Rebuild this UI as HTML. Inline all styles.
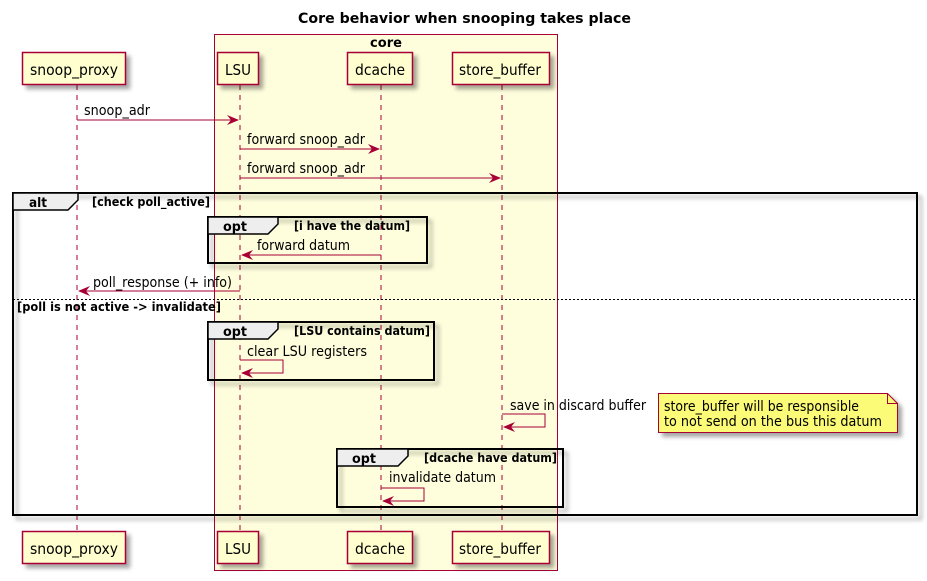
<!DOCTYPE html>
<html><head><meta charset="utf-8"><style>
html,body{margin:0;padding:0;background:#fff;}
svg{display:block;font-family:"DejaVu Sans","Liberation Sans",sans-serif;}
</style></head><body>
<svg width="927" height="581" viewBox="0 0 927 581" xmlns="http://www.w3.org/2000/svg">
<defs>
<filter id="sh" x="-10%" y="-10%" width="130%" height="140%"><feGaussianBlur in="SourceAlpha" stdDeviation="2"/><feOffset dx="4" dy="4"/><feComponentTransfer><feFuncA type="linear" slope="0.35"/></feComponentTransfer><feMerge><feMergeNode/><feMergeNode in="SourceGraphic"/></feMerge></filter>
</defs>
<text x="298" y="23" font-size="14.5" font-weight="bold" fill="#000" textLength="333" lengthAdjust="spacingAndGlyphs">Core behavior when snooping takes place</text>
<rect x="214.5" y="34.5" width="343" height="536" fill="#FEFEDD" stroke="#A80036" stroke-width="1"/>
<text x="370" y="47" font-size="13" font-weight="bold" textLength="32" lengthAdjust="spacingAndGlyphs">core</text>
<g stroke="#A80036" stroke-width="1" stroke-dasharray="5,5">
<line x1="77" y1="85" x2="77" y2="531"/>
<line x1="240" y1="85" x2="240" y2="531"/>
<line x1="381" y1="85" x2="381" y2="531"/>
<line x1="502" y1="85" x2="502" y2="531"/>
</g>
<g fill="#FEFECE" stroke="#A80036" stroke-width="1.5" filter="url(#sh)">
<rect x="22.5" y="52.5" width="103" height="32"/>
<rect x="217.5" y="52.5" width="41" height="32"/>
<rect x="347.5" y="52.5" width="65" height="32"/>
<rect x="452.5" y="52.5" width="97" height="32"/>
<rect x="22.5" y="531.5" width="103" height="32"/>
<rect x="217.5" y="531.5" width="41" height="32"/>
<rect x="347.5" y="531.5" width="65" height="32"/>
<rect x="452.5" y="531.5" width="97" height="32"/>
</g>
<g font-size="15.5" fill="#000">
<text x="30" y="75" textLength="88" lengthAdjust="spacingAndGlyphs">snoop_proxy</text><text x="225" y="75" textLength="26" lengthAdjust="spacingAndGlyphs">LSU</text><text x="355" y="75" textLength="50" lengthAdjust="spacingAndGlyphs">dcache</text><text x="459" y="75" textLength="82" lengthAdjust="spacingAndGlyphs">store_buffer</text>
<text x="30" y="554" textLength="88" lengthAdjust="spacingAndGlyphs">snoop_proxy</text><text x="225" y="554" textLength="26" lengthAdjust="spacingAndGlyphs">LSU</text><text x="355" y="554" textLength="50" lengthAdjust="spacingAndGlyphs">dcache</text><text x="459" y="554" textLength="82" lengthAdjust="spacingAndGlyphs">store_buffer</text>
</g>
<rect x="13" y="193" width="904" height="322" fill="none" stroke="#000" stroke-width="2" filter="url(#sh)"/>
<path d="M13,193 L78,193 L78,200 L68,210 L13,210 Z" fill="#EEEEEE" stroke="#000" stroke-width="1.5"/>
<text x="29" y="207" font-size="13" font-weight="bold" textLength="18" lengthAdjust="spacingAndGlyphs">alt</text>
<text x="92" y="206" font-size="12" font-weight="bold" textLength="118" lengthAdjust="spacingAndGlyphs">[check poll_active]</text>
<line x1="13" y1="299.5" x2="917" y2="299.5" stroke="#000" stroke-dasharray="2,2"/>
<text x="17" y="311" font-size="12" font-weight="bold" textLength="204" lengthAdjust="spacingAndGlyphs">[poll is not active -&gt; invalidate]</text>
<rect x="208" y="217" width="219" height="46" fill="none" stroke="#000" stroke-width="2" filter="url(#sh)"/>
<path d="M208,217 L278,217 L278,224 L268,234 L208,234 Z" fill="#EEEEEE" stroke="#000" stroke-width="1.5"/>
<text x="223" y="231" font-size="13" font-weight="bold" textLength="24" lengthAdjust="spacingAndGlyphs">opt</text>
<text x="294" y="230" font-size="12" font-weight="bold" textLength="116" lengthAdjust="spacingAndGlyphs">[i have the datum]</text>
<rect x="208" y="322" width="226" height="58" fill="none" stroke="#000" stroke-width="2" filter="url(#sh)"/>
<path d="M208,322 L278,322 L278,329 L268,339 L208,339 Z" fill="#EEEEEE" stroke="#000" stroke-width="1.5"/>
<text x="223" y="336" font-size="13" font-weight="bold" textLength="24" lengthAdjust="spacingAndGlyphs">opt</text>
<text x="294" y="335" font-size="12" font-weight="bold" textLength="136" lengthAdjust="spacingAndGlyphs">[LSU contains datum]</text>
<rect x="337" y="449" width="226" height="58" fill="none" stroke="#000" stroke-width="2" filter="url(#sh)"/>
<path d="M337,449 L408,449 L408,456 L398,466 L337,466 Z" fill="#EEEEEE" stroke="#000" stroke-width="1.5"/>
<text x="352" y="463" font-size="13" font-weight="bold" textLength="24" lengthAdjust="spacingAndGlyphs">opt</text>
<text x="424" y="462" font-size="12" font-weight="bold" textLength="133" lengthAdjust="spacingAndGlyphs">[dcache have datum]</text>
<g stroke="#A80036" stroke-width="1" fill="none">
<line x1="77" y1="120" x2="238" y2="120"/>
<line x1="240" y1="149" x2="379" y2="149"/>
<line x1="240" y1="178" x2="500" y2="178"/>
<line x1="381" y1="255" x2="242" y2="255"/>
<line x1="240" y1="291" x2="79" y2="291"/>
<polyline points="240,360 283,360 283,373 242,373"/>
<polyline points="502,414 545,414 545,427 504,427"/>
<polyline points="381,488 424,488 424,501 383,501"/>
</g>
<g fill="#A80036">
<path d="M239,120 L227,115 L231,120 L227,125 Z"/>
<path d="M380,149 L368,144 L372,149 L368,154 Z"/>
<path d="M501,178 L489,173 L493,178 L489,183 Z"/>
<path d="M241,255 L253,250 L249,255 L253,260 Z"/>
<path d="M78,291 L90,286 L86,291 L90,296 Z"/>
<path d="M241,373 L253,368 L249,373 L253,378 Z"/>
<path d="M503,427 L515,422 L511,427 L515,432 Z"/>
<path d="M382,501 L394,496 L390,501 L394,506 Z"/>
</g>
<g font-size="14" fill="#000">
<text x="84" y="115" textLength="66" lengthAdjust="spacingAndGlyphs">snoop_adr</text>
<text x="247" y="144" textLength="118" lengthAdjust="spacingAndGlyphs">forward snoop_adr</text>
<text x="247" y="173" textLength="118" lengthAdjust="spacingAndGlyphs">forward snoop_adr</text>
<text x="257" y="250" textLength="93" lengthAdjust="spacingAndGlyphs">forward datum</text>
<text x="93" y="287" textLength="139" lengthAdjust="spacingAndGlyphs">poll_response (+ info)</text>
<text x="247" y="356" textLength="120" lengthAdjust="spacingAndGlyphs">clear LSU registers</text>
<text x="510" y="410" textLength="136" lengthAdjust="spacingAndGlyphs">save in discard buffer</text>
<text x="389" y="482" textLength="107" lengthAdjust="spacingAndGlyphs">invalidate datum</text>
</g>
<path d="M658.5,393.5 L887.5,393.5 L897.5,403.5 L897.5,432.5 L658.5,432.5 Z" fill="#FBFB77" stroke="#A80036" stroke-width="1" filter="url(#sh)"/>
<path d="M887.5,393.5 L887.5,403.5 L897.5,403.5" fill="none" stroke="#A80036" stroke-width="1"/>
<g font-size="14" fill="#000">
<text x="664" y="411" textLength="195" lengthAdjust="spacingAndGlyphs">store_buffer will be responsible</text>
<text x="664" y="426" textLength="218" lengthAdjust="spacingAndGlyphs">to not send on the bus this datum</text>
</g>
</svg>
</body></html>
